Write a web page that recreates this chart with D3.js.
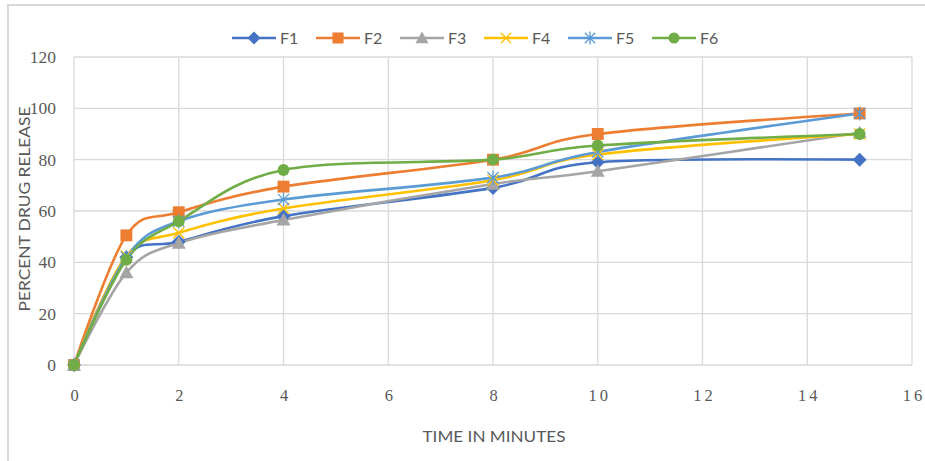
<!DOCTYPE html>
<html>
<head>
<meta charset="utf-8">
<script src="https://cdn.jsdelivr.net/npm/d3@7"></script>
<style>
  html, body { margin: 0; padding: 0; background: #fff; }
  svg { display: block; }
</style>
</head>
<body>
<svg id="chart" width="925" height="461"></svg>
<script>
// Dissolution profile: percent drug released over time for six formulations
const times = [0, 1, 2, 4, 8, 10, 15];
const seriesNames = ["F1", "F2", "F3", "F4", "F5", "F6"];
const F1 = [0, 42, 48, 58, 69, 79, 80];
const F2 = [0, 50.5, 59.5, 69.5, 80, 90, 98];
const F3 = [0, 36, 47.5, 56.5, 70.5, 75.5, 90.5];
const F4 = [0, 42.5, 51.5, 61, 72, 82, 90];
const F5 = [0, 42, 56, 64.5, 73, 83, 98];
const F6 = [0, 41, 56, 76, 80, 85.5, 90];
const seriesValues = [F1, F2, F3, F4, F5, F6];
const xTicks = [0, 2, 4, 6, 8, 10, 12, 14, 16];
const yTicks = [0, 20, 40, 60, 80, 100, 120];

const colors = ["#4472C4", "#ED7D31", "#A5A5A5", "#FFC000", "#5B9BD5", "#70AD47"];
const markers = ["diamond", "square", "triangle", "x", "star", "circle"];

const svg = d3.select("#chart");
const W = 925, H = 461;
const margin = { left: 74, right: 13, top: 57, bottom: 96 };

const x = d3.scaleLinear().domain([0, 16]).range([margin.left, W - margin.right]);
const y = d3.scaleLinear().domain([0, 120]).range([H - margin.bottom, margin.top]);

const font = "Lato, 'Open Sans', sans-serif";
const numFont = "'Liberation Serif', 'DejaVu Serif', serif";
const textColor = "#595959";

// outer chart frame
svg.append("rect")
  .attr("x", 8).attr("y", 5).attr("width", W + 20).attr("height", H + 20)
  .attr("fill", "none").attr("stroke", "#d9d9d9").attr("stroke-width", 2);

// gridlines
const grid = svg.append("g");
grid.selectAll("line.h").data(yTicks).join("line")
  .attr("x1", x(0)).attr("x2", x(16))
  .attr("y1", d => y(d)).attr("y2", d => y(d))
  .attr("stroke", "#d9d9d9").attr("stroke-width", 1.3);
grid.selectAll("line.v").data(xTicks).join("line")
  .attr("y1", y(0)).attr("y2", y(120))
  .attr("x1", d => x(d)).attr("x2", d => x(d))
  .attr("stroke", "#d9d9d9").attr("stroke-width", 1.3);

// axes (labels only)
const yAxis = svg.append("g")
  .attr("transform", `translate(${x(0)},0)`)
  .call(d3.axisLeft(y).tickValues(yTicks).tickSize(0).tickPadding(18));
yAxis.select(".domain").remove();
yAxis.selectAll("text").attr("font-family", numFont).attr("font-size", 17.5).attr("fill", textColor);

const xAxis = svg.append("g")
  .attr("transform", `translate(0,${y(0)})`)
  .call(d3.axisBottom(x).tickValues(xTicks).tickSize(0).tickPadding(24));
xAxis.select(".domain").remove();
xAxis.selectAll("text").attr("font-family", numFont).attr("font-size", 16.5)
  .attr("fill", textColor).attr("letter-spacing", "3px").attr("dx", "1.5px");

// axis titles
svg.append("text")
  .attr("x", (x(0) + x(16)) / 2 + 1).attr("y", 442)
  .attr("text-anchor", "middle")
  .attr("font-family", font).attr("font-size", 14.5).attr("fill", textColor)
  .attr("textLength", 143).attr("lengthAdjust", "spacingAndGlyphs")
  .text("TIME IN MINUTES");
svg.append("text")
  .attr("transform", `translate(30,${209}) rotate(-90)`)
  .attr("text-anchor", "middle")
  .attr("font-family", font).attr("font-size", 14.5).attr("fill", textColor)
  .attr("textLength", 205).attr("lengthAdjust", "spacingAndGlyphs")
  .text("PERCENT DRUG RELEASE");

// marker drawing
function drawMarker(g, type, color, size) {
  const s = size;
  if (type === "diamond") {
    g.append("path").attr("d", `M0,${-s}L${s},0L0,${s}L${-s},0Z`).attr("fill", color);
  } else if (type === "square") {
    g.append("rect").attr("x", -s * 0.85).attr("y", -s * 0.85)
      .attr("width", s * 1.7).attr("height", s * 1.7).attr("fill", color);
  } else if (type === "triangle") {
    g.append("path").attr("d", `M0,${-s}L${s},${s * 0.8}L${-s},${s * 0.8}Z`).attr("fill", color);
  } else if (type === "x") {
    const r = s * 0.8;
    g.append("path").attr("d", `M${-r},${-r}L${r},${r}M${-r},${r}L${r},${-r}`)
      .attr("stroke", color).attr("stroke-width", 1.3).attr("fill", "none");
  } else if (type === "star") {
    const r = s * 0.8;
    g.append("path").attr("d", `M${-r},${-r}L${r},${r}M${-r},${r}L${r},${-r}M0,${-s}L0,${s}`)
      .attr("stroke", color).attr("stroke-width", 1.3).attr("fill", "none");
  } else {
    g.append("circle").attr("r", s * 0.85).attr("fill", color);
  }
}

// series lines
const line = d3.line()
  .x(d => x(d[0])).y(d => y(d[1]))
  .curve(d3.curveCatmullRom.alpha(0));

const plot = svg.append("g");
seriesValues.forEach((vals, i) => {
  const pts = times.map((t, k) => [t, vals[k]]);
  plot.append("path").datum(pts)
    .attr("d", line)
    .attr("fill", "none")
    .attr("stroke", colors[i])
    .attr("stroke-width", 2.6)
    .attr("stroke-linecap", "round");
});
seriesValues.forEach((vals, i) => {
  const g = plot.append("g");
  times.forEach((t, k) => {
    const m = g.append("g").attr("transform", `translate(${x(t)},${y(vals[k])})`);
    drawMarker(m, markers[i], colors[i], 7);
  });
});

// legend
const legend = svg.append("g");
const legendX0 = 232, legendStep = 84, legendY = 38;
seriesNames.forEach((name, i) => {
  const lx = legendX0 + i * legendStep;
  legend.append("line")
    .attr("x1", lx).attr("x2", lx + 44)
    .attr("y1", legendY).attr("y2", legendY)
    .attr("stroke", colors[i]).attr("stroke-width", 2.6);
  const m = legend.append("g").attr("transform", `translate(${lx + 22},${legendY})`);
  drawMarker(m, markers[i], colors[i], 6.5);
  legend.append("text")
    .attr("x", lx + 48).attr("y", legendY + 6)
    .attr("font-family", font).attr("font-size", 16).attr("fill", textColor)
    .text(name);
});
</script>
</body>
</html>
